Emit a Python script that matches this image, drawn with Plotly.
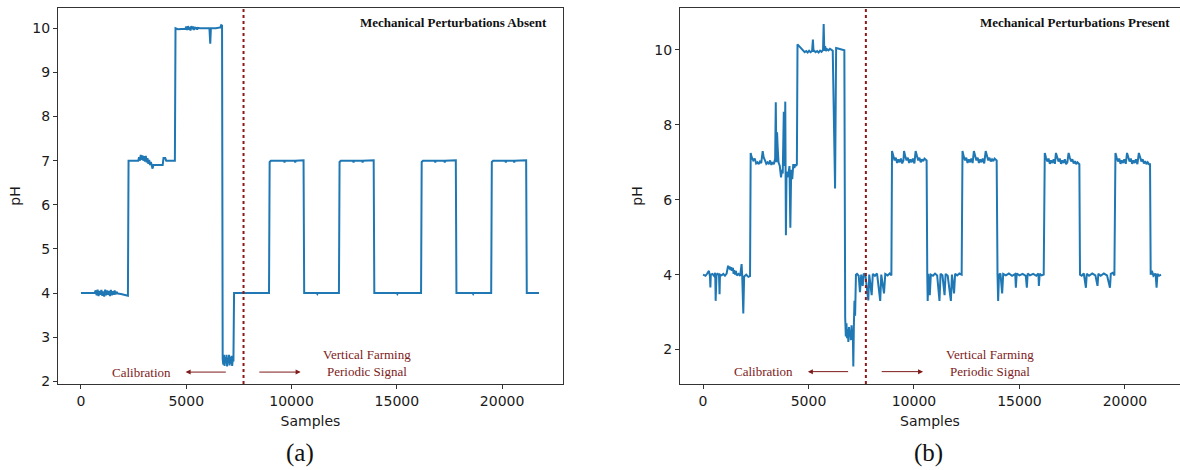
import plotly.graph_objects as go

# ---- Panel (a): mechanical perturbations absent ----
a_cal_x = [0, 300, 650, 700, 745, 790, 835, 880, 925, 970, 1015, 1060, 1105, 1150, 1195, 1240,
           1285, 1330, 1375, 1420, 1465, 1510, 1555, 1600, 1645, 1690, 1750, 1900, 2100, 2230, 2260,
           2500, 2720, 2760, 2800, 2840, 2880, 2920, 2960, 3000, 3040, 3080, 3120, 3160, 3200, 3240,
           3280, 3320, 3360, 3400, 3440, 3600, 3880, 3920, 4000, 4050, 4300, 4460, 4490,
           4600, 4960, 5000, 5040, 5080, 5120, 5160, 5200, 5240, 5280, 5320, 5360, 5400, 5440, 5480,
           5520, 5560, 5650, 5850, 6100, 6140, 6170, 6400, 6620, 6660, 6700,
           6730, 6760, 6790, 6820, 6850, 6880, 6910, 6940, 6970, 7000, 7030, 7060, 7090, 7120, 7150,
           7180, 7210, 7240, 7270]
a_cal_y = [4.0, 4.0, 4.0, 4.06, 3.95, 4.08, 3.93, 4.05, 3.96, 4.07, 3.94, 4.04, 3.92, 4.08, 3.95, 4.06,
           3.96, 4.05, 3.93, 4.07, 3.95, 4.04, 3.96, 4.06, 3.97, 4.03, 3.99, 3.98, 3.96, 3.94, 7.0,
           7.0, 7.0, 7.08, 7.0, 7.13, 7.02, 7.12, 7.0, 7.1, 6.98, 7.11, 6.96, 7.06, 6.93, 7.02,
           6.9, 6.97, 6.86, 6.82, 6.9, 6.9, 6.9, 7.06, 7.06, 7.0, 7.0, 7.0, 10.0,
           9.98, 9.99, 10.04, 9.96, 10.05, 9.97, 10.03, 9.95, 10.05, 9.98, 10.04, 9.96, 10.03, 9.98, 10.02,
           9.97, 10.01, 10.0, 10.0, 10.0, 9.65, 10.0, 10.0, 10.02, 10.07, 10.06,
           2.5, 2.38, 2.6, 2.35, 2.55, 2.42, 2.6, 2.34, 2.52, 2.45, 2.6, 2.36, 2.55, 2.4, 2.58,
           2.35, 2.5, 2.45, 4.0]

a_per_x = [7300, 8000, 8930, 8960, 9020, 9640, 9665, 9690, 10150, 10175, 10200, 10570, 10600,
           11200, 11225, 11250, 12250, 12280, 12340, 12920, 12945, 12970, 13350, 13375, 13400, 13900, 13930,
           15000, 15025, 15050, 16150, 16180, 16240, 16800, 16825, 16850, 17250, 17275, 17300, 17800, 17830,
           18600, 18625, 18650, 19480, 19510, 19570, 20150, 20175, 20200, 20550, 20575, 20600, 21140, 21170, 21750]
a_per_y = [4.0, 4.0, 4.0, 6.97, 7.0, 7.0, 6.96, 7.0, 7.0, 6.96, 7.0, 7.01, 4.0,
           4.0, 3.98, 4.0, 4.0, 6.97, 7.0, 7.0, 6.96, 7.0, 7.0, 6.96, 7.0, 7.01, 4.0,
           4.0, 3.98, 4.0, 4.0, 6.97, 7.0, 7.0, 6.96, 7.0, 7.0, 6.96, 7.0, 7.01, 4.0,
           4.0, 3.98, 4.0, 4.0, 6.97, 7.0, 7.0, 6.96, 7.0, 7.0, 6.96, 7.0, 7.01, 4.0, 4.0]

# ---- Panel (b): mechanical perturbations present ----
b_cal_x = [0, 120, 200, 280, 330, 350, 370, 450, 520, 580, 600, 620, 640, 700, 760, 785, 805, 880,
           960, 1040, 1120, 1190, 1220, 1260, 1300, 1340, 1380, 1420, 1450, 1480, 1520, 1560, 1600,
           1680, 1760, 1830, 1860, 1910, 1950, 2050, 2150, 2230, 2260,
           2300, 2380, 2450, 2520, 2580, 2640, 2700, 2760, 2830, 2880, 2940, 3000, 3060, 3120, 3180,
           3240, 3300, 3360, 3420, 3450, 3480, 3510, 3540, 3580, 3640, 3700, 3740, 3780, 3830, 3870,
           3900, 3930, 3960, 4000, 4050, 4100, 4140, 4180, 4230, 4280, 4330, 4380, 4420, 4450,
           4480, 4560, 4650, 4750, 4820, 4890, 4960, 5030, 5100, 5170, 5210, 5240, 5270, 5340, 5410,
           5480, 5550, 5620, 5690, 5720, 5750, 5790, 5830, 5880, 5950, 6020, 6090, 6150, 6260, 6310,
           6400, 6500, 6600, 6700, 6740,
           6770, 6800, 6830, 6860, 6890, 6920, 6950, 6980, 7010, 7040, 7070, 7100, 7125, 7150, 7180,
           7210, 7250]
b_cal_y = [4.0, 3.97, 4.03, 4.1, 3.95, 3.66, 4.0, 4.02, 3.97, 4.05, 3.3, 4.0, 4.0, 4.02, 3.98, 3.48, 4.0, 3.98,
           4.02, 3.97, 4.03, 4.24, 4.15, 4.22, 4.12, 4.2, 4.1, 4.18, 4.02, 4.12, 4.0, 4.1, 3.98,
           4.02, 3.97, 4.28, 3.95, 2.96, 3.95, 4.0, 3.94, 3.96, 7.25,
           7.15, 7.05, 7.1, 6.97, 7.0, 6.95, 7.02, 6.98, 7.3, 7.12, 7.05, 6.96, 7.0, 6.95, 7.05,
           6.93, 7.0, 6.95, 7.1, 8.6, 7.0, 7.8, 7.4, 7.0, 6.9, 6.6, 6.8, 6.7, 8.35, 6.9,
           8.62, 5.05, 6.75, 6.6, 6.7, 6.9, 5.25, 6.8, 6.55, 6.95, 6.85, 6.95, 6.9, 6.95,
           10.15, 10.1, 10.05, 10.0, 9.94, 9.97, 9.93, 9.98, 9.94, 9.97, 10.28, 9.95, 9.98, 9.94, 9.97,
           9.93, 9.98, 9.95, 10.0, 10.69, 9.98, 10.1, 9.97, 10.02, 9.99, 10.03, 10.0, 9.98, 6.3, 10.05,
           10.04, 10.03, 10.01, 9.99, 2.85,
           2.35, 2.7, 2.3, 2.55, 2.2, 2.6, 2.35, 2.5, 2.25, 2.65, 2.4, 2.55, 1.55, 2.6, 3.3,
           2.9, 4.0]

b_per_x = [7300, 7380, 7440, 7500, 7570, 7620, 7700, 7835, 7880, 7995, 8050, 8150, 8250, 8400, 8450,
           8580, 8640, 8750, 8850, 8930,
           8960, 9020, 9080, 9140, 9200, 9260, 9320, 9380, 9440, 9500, 9530, 9590, 9650, 9710, 9770,
           9830, 9890, 9950, 10020, 10080, 10140, 10200, 10260, 10320, 10380, 10440, 10500, 10560, 10600,
           10630, 10650, 10690, 10750, 10800, 10900, 11000, 11100, 11210, 11260, 11350, 11450, 11500,
           11600, 11750, 11800, 11900, 11950, 12050, 12150, 12260,
           12300, 12360, 12420, 12480, 12540, 12600, 12660, 12720, 12780, 12840, 12900, 12960, 13020,
           13080, 13140, 13200, 13260, 13330, 13400, 13460, 13520, 13580, 13640, 13700, 13760, 13820,
           13880, 13920,
           13960, 13990, 14030, 14100, 14180, 14230, 14350, 14500, 14650, 14800, 14830, 14870, 15000,
           15150, 15300, 15350, 15390, 15500, 15650, 15800, 15900, 15920, 15960, 16050, 16150,
           16200, 16260, 16320, 16380, 16440, 16500, 16560, 16620, 16680, 16730, 16790, 16850, 16910,
           16970, 17030, 17090, 17150, 17210, 17270, 17330, 17390, 17450, 17510, 17570, 17630, 17690,
           17750, 17800, 17840,
           17870, 17950, 18050, 18150, 18190, 18300, 18450, 18600, 18700, 18740, 18850, 19000, 19150,
           19290, 19330, 19420, 19500,
           19550, 19610, 19670, 19730, 19790, 19850, 19910, 19970, 20040, 20100, 20160, 20220, 20280,
           20340, 20400, 20460, 20520, 20590, 20660, 20720, 20780, 20840, 20900, 20960, 21020, 21080,
           21140, 21190,
           21220, 21280, 21350, 21450, 21500, 21540, 21620, 21710]
b_per_y = [4.02, 3.97, 3.53, 4.0, 3.7, 4.03, 3.98, 3.31, 4.0, 3.45, 4.02, 3.97, 4.03, 3.3, 4.0,
           3.5, 4.02, 3.98, 4.03, 3.98,
           7.3, 7.18, 7.05, 7.12, 6.98, 7.08, 7.0, 7.1, 6.97, 7.05, 7.3, 7.15, 7.05, 7.12, 6.98,
           7.08, 7.0, 7.1, 6.97, 7.3, 7.15, 7.05, 7.12, 7.0, 7.08, 7.03, 7.1, 7.05, 7.05,
           4.0, 3.3, 4.02, 3.45, 4.0, 3.97, 4.03, 3.98, 3.3, 4.02, 3.98, 3.45, 4.02,
           3.97, 3.3, 4.0, 3.5, 4.02, 3.98, 4.03, 4.0,
           7.3, 7.15, 7.05, 7.12, 6.98, 7.08, 7.0, 7.1, 6.98, 7.3, 7.15, 7.05, 7.12,
           6.98, 7.08, 7.0, 7.1, 6.97, 7.3, 7.15, 7.05, 7.12, 7.02, 7.08, 7.03, 7.1,
           7.05, 7.05,
           4.0, 3.3, 4.0, 4.03, 3.5, 4.02, 3.98, 4.03, 3.97, 4.02, 3.65, 4.03, 3.98,
           4.02, 3.97, 3.65, 4.03, 3.98, 4.02, 3.97, 4.03, 3.7, 4.02, 3.98, 4.0,
           7.25, 7.12, 7.02, 7.1, 6.96, 7.05, 6.98, 7.08, 6.96, 7.25, 7.12, 7.02, 7.1,
           6.96, 7.05, 6.98, 7.08, 6.95, 7.0, 7.25, 7.12, 7.02, 7.08, 6.97, 7.03, 6.95,
           7.0, 6.95, 6.95,
           4.0, 3.97, 4.03, 3.65, 4.02, 3.97, 4.03, 3.98, 3.7, 4.02, 3.97, 4.03, 3.98,
           3.65, 4.02, 4.05, 3.98,
           7.25, 7.12, 7.02, 7.1, 6.96, 7.05, 6.98, 7.08, 6.96, 7.25, 7.12, 7.02, 7.1,
           6.96, 7.05, 6.98, 7.08, 6.95, 7.25, 7.12, 7.02, 7.08, 6.97, 7.03, 6.95, 7.0,
           6.95, 6.95,
           4.0, 4.1, 3.97, 4.03, 3.65, 4.02, 3.97, 4.0]

x_ticks = [0, 5000, 10000, 15000, 20000]
x_tick_labels = ["0", "5000", "10000", "15000", "20000"]
a_y_ticks = [2, 3, 4, 5, 6, 7, 8, 9, 10]
b_y_ticks = [2, 4, 6, 8, 10]
split_x = 7720          # end of calibration phase
titles = ["Mechanical Perturbations Absent", "Mechanical Perturbations Present"]
captions = ["(a)", "(b)"]

LINE = "#1f77b4"
MAROON = "#7d1a1a"
INK = "#1a1a1a"
SERIF = "Liberation Serif, Times New Roman, serif"
SANS = "DejaVu Sans, sans-serif"

fig = go.Figure()
fig.add_trace(go.Scatter(x=a_cal_x + a_per_x, y=a_cal_y + a_per_y, mode="lines",
                         line=dict(color=LINE, width=2), xaxis="x", yaxis="y",
                         showlegend=False, hoverinfo="skip"))
fig.add_trace(go.Scatter(x=b_cal_x + b_per_x, y=b_cal_y + b_per_y, mode="lines",
                         line=dict(color=LINE, width=2), xaxis="x2", yaxis="y2",
                         showlegend=False, hoverinfo="skip"))

W, H = 1180, 470
ML, MR, MT, MB = 58, 0, 8, 86
PW = W - ML - MR
PH = H - MT - MB


def px_x(p):
    return (p - ML) / PW


def px_y(p):
    return (H - MB - p) / PH


axis_common = dict(showline=True, linecolor="#333333", linewidth=1, ticks="outside",
                   ticklen=4, tickcolor="#333333", showgrid=False, zeroline=False,
                   tickfont=dict(family=SANS, size=14, color=INK),
                   title_font=dict(family=SANS, size=14, color=INK))

fig.update_layout(
    width=W, height=H,
    margin=dict(l=ML, r=MR, t=MT, b=MB, autoexpand=False),
    paper_bgcolor="white", plot_bgcolor="white",
    xaxis=dict(domain=[0, px_x(563)], range=[-1090, 22890], tickvals=x_ticks,
               ticktext=x_tick_labels, mirror=True,
               title=dict(text="Samples", standoff=8), anchor="y", **axis_common),
    yaxis=dict(domain=[0, 1], range=[1.94, 10.46], tickvals=a_y_ticks, mirror=True,
               title=dict(text="pH", standoff=8), anchor="x", **axis_common),
    xaxis2=dict(domain=[px_x(680), 1], range=[-1090, 22610], tickvals=x_ticks,
                ticktext=x_tick_labels, mirror=True,
                title=dict(text="Samples", standoff=8), anchor="y2", **axis_common),
    yaxis2=dict(domain=[0, 1], range=[1.08, 11.12], tickvals=b_y_ticks, mirror=False,
                title=dict(text="pH", standoff=8), anchor="x2", **axis_common),
)

panels = [("x", "y", 2.21, 2.405), ("x2", "y2", 1.41, 1.636)]
title_right = [549, 1172]
caption_x = [300, 928]

for i, (xr, yr, y_arrow, y_text) in enumerate(panels):
    # calibration / periodic boundary
    fig.add_shape(type="line", xref=xr, yref=f"{yr} domain", x0=split_x, x1=split_x, y0=0, y1=1,
                  line=dict(color="#8b1a1a", width=2, dash="dot"))
    fig.add_annotation(xref="paper", yref="paper", x=px_x(title_right[i]), y=px_y(23),
                       xanchor="right", yanchor="middle", showarrow=False,
                       text=f"<b>{titles[i]}</b>",
                       font=dict(family=SERIF, size=13, color="#111111"))
    fig.add_annotation(xref=xr, yref=yr, x=2860, y=y_arrow, showarrow=False,
                       text="Calibration", font=dict(family=SERIF, size=13, color=MAROON))
    fig.add_annotation(xref=xr, yref=yr, x=13600, y=y_text, showarrow=False,
                       text="Vertical Farming<br>Periodic Signal",
                       font=dict(family=SERIF, size=13, color=MAROON))
    fig.add_annotation(xref=xr, yref=yr, axref=xr, ayref=yr, x=4970, y=y_arrow,
                       ax=6950, ay=y_arrow, showarrow=True, arrowhead=2, arrowsize=1,
                       arrowwidth=1, arrowcolor=MAROON, text="")
    fig.add_annotation(xref=xr, yref=yr, axref=xr, ayref=yr, x=10430, y=y_arrow,
                       ax=8400, ay=y_arrow, showarrow=True, arrowhead=2, arrowsize=1,
                       arrowwidth=1, arrowcolor=MAROON, text="")
    fig.add_annotation(xref="paper", yref="paper", x=px_x(caption_x[i]), y=px_y(453),
                       xanchor="center", yanchor="middle", showarrow=False,
                       text=captions[i], font=dict(family=SERIF, size=25, color="#111111"))

fig.write_html("out.html")
